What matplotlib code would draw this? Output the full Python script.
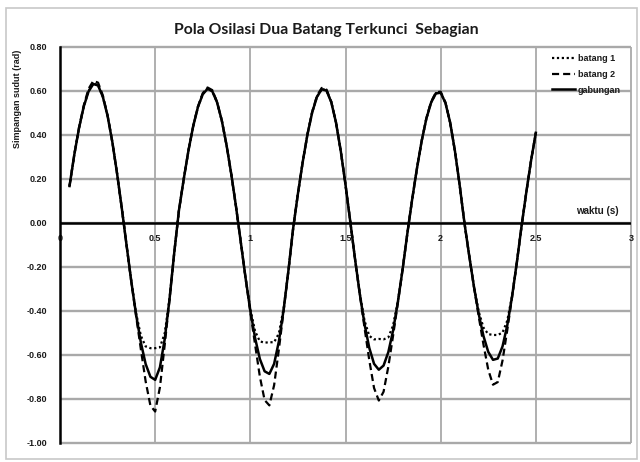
import matplotlib
matplotlib.use("Agg")
import matplotlib.pyplot as plt
from matplotlib.patches import Rectangle

waktu = [0.050, 0.075, 0.100, 0.125, 0.150, 0.175, 0.200, 0.225, 0.250, 0.275,
         0.300, 0.325, 0.350, 0.375, 0.400, 0.425, 0.450, 0.475, 0.500, 0.525,
         0.550, 0.575, 0.600, 0.625, 0.650, 0.675, 0.700, 0.725, 0.750, 0.775,
         0.800, 0.825, 0.850, 0.875, 0.900, 0.925, 0.950, 0.975, 1.000, 1.025,
         1.050, 1.075, 1.100, 1.125, 1.150, 1.175, 1.200, 1.225, 1.250, 1.275,
         1.300, 1.325, 1.350, 1.375, 1.400, 1.425, 1.450, 1.475, 1.500, 1.525,
         1.550, 1.575, 1.600, 1.625, 1.650, 1.675, 1.700, 1.725, 1.750, 1.775,
         1.800, 1.825, 1.850, 1.875, 1.900, 1.925, 1.950, 1.975, 2.000, 2.025,
         2.050, 2.075, 2.100, 2.125, 2.150, 2.175, 2.200, 2.225, 2.250, 2.275,
         2.300, 2.325, 2.350, 2.375, 2.400, 2.425, 2.450, 2.475, 2.500]

gabungan = [0.168, 0.310, 0.432, 0.530, 0.598, 0.632, 0.625, 0.574, 0.487, 0.368,
            0.224, 0.065, -0.103, -0.268, -0.418, -0.544, -0.641, -0.699, -0.713, -0.656,
            -0.529, -0.350, -0.137, 0.058, 0.199, 0.330, 0.441, 0.528, 0.585, 0.610,
            0.599, 0.549, 0.466, 0.354, 0.221, 0.073, -0.088, -0.250, -0.398, -0.523,
            -0.618, -0.674, -0.686, -0.640, -0.538, -0.394, -0.217, -0.024, 0.133, 0.276,
            0.402, 0.503, 0.573, 0.608, 0.602, 0.550, 0.457, 0.328, 0.174, 0.007,
            -0.163, -0.322, -0.460, -0.568, -0.640, -0.667, -0.648, -0.587, -0.489, -0.360,
            -0.211, -0.047, 0.106, 0.246, 0.372, 0.475, 0.548, 0.589, 0.592, 0.546,
            0.456, 0.327, 0.171, 0.000, -0.149, -0.290, -0.414, -0.514, -0.586, -0.622,
            -0.616, -0.561, -0.465, -0.335, -0.181, -0.014, 0.140, 0.284, 0.410]

batang_1 = [0.168, 0.310, 0.432, 0.530, 0.600, 0.634, 0.627, 0.574, 0.487, 0.368,
            0.224, 0.065, -0.103, -0.268, -0.411, -0.513, -0.561, -0.569, -0.569, -0.565,
            -0.502, -0.348, -0.137, 0.058, 0.199, 0.330, 0.441, 0.528, 0.586, 0.612,
            0.600, 0.549, 0.466, 0.354, 0.221, 0.073, -0.088, -0.250, -0.392, -0.492,
            -0.538, -0.544, -0.542, -0.542, -0.502, -0.388, -0.217, -0.024, 0.133, 0.276,
            0.402, 0.503, 0.574, 0.609, 0.603, 0.550, 0.457, 0.328, 0.174, 0.007,
            -0.163, -0.320, -0.444, -0.513, -0.529, -0.527, -0.529, -0.520, -0.466, -0.356,
            -0.211, -0.047, 0.106, 0.246, 0.372, 0.475, 0.549, 0.590, 0.593, 0.546,
            0.456, 0.327, 0.171, 0.000, -0.149, -0.289, -0.403, -0.476, -0.505, -0.509,
            -0.509, -0.498, -0.444, -0.332, -0.181, -0.014, 0.140, 0.284, 0.410]

batang_2 = [0.168, 0.310, 0.434, 0.535, 0.610, 0.646, 0.638, 0.580, 0.489, 0.368,
            0.224, 0.065, -0.103, -0.269, -0.424, -0.575, -0.720, -0.830, -0.857, -0.747,
            -0.555, -0.352, -0.137, 0.058, 0.199, 0.330, 0.441, 0.530, 0.590, 0.616,
            0.604, 0.551, 0.466, 0.354, 0.221, 0.073, -0.088, -0.250, -0.405, -0.553,
            -0.698, -0.805, -0.829, -0.737, -0.574, -0.399, -0.217, -0.024, 0.133, 0.276,
            0.402, 0.505, 0.578, 0.614, 0.607, 0.552, 0.457, 0.328, 0.174, 0.007,
            -0.163, -0.324, -0.476, -0.624, -0.750, -0.807, -0.767, -0.653, -0.512, -0.364,
            -0.211, -0.047, 0.106, 0.246, 0.372, 0.477, 0.552, 0.594, 0.597, 0.548,
            0.456, 0.327, 0.171, 0.000, -0.149, -0.291, -0.425, -0.553, -0.667, -0.735,
            -0.723, -0.625, -0.486, -0.338, -0.181, -0.014, 0.140, 0.284, 0.410]

x_ticks = [0, 0.5, 1, 1.5, 2, 2.5, 3]
x_tick_labels = ["0", "0.5", "1", "1.5", "2", "2.5", "3"]
y_ticks = [-1.0, -0.8, -0.6, -0.4, -0.2, 0.0, 0.2, 0.4, 0.6, 0.8]
y_tick_labels = ["-1.00", "-0.80", "-0.60", "-0.40", "-0.20", "0.00",
                 "0.20", "0.40", "0.60", "0.80"]

title = "Pola Osilasi Dua Batang Terkunci  Sebagian"
y_label = "Simpangan sudut (rad)"
x_label = "waktu (s)"

W, H = 640, 462
fig = plt.figure(figsize=(W / 100, H / 100), dpi=100)
fig.patch.set_facecolor("white")

# outer chart frame
fig.patches.append(Rectangle((6 / W, 1 - 459 / H), 631 / W, 451 / H,
                             transform=fig.transFigure, fill=False,
                             edgecolor="#c8c8c8", lw=1.2))

L, R, T, B = 60, 631, 47, 443
ax = fig.add_axes([L / W, 1 - B / H, (R - L) / W, (B - T) / H])
ax.set_xlim(0, 3)
ax.set_ylim(-1.0, 0.8)

grid_c = "#a9a9a9"
# gridlines drawn explicitly at the tick positions
ax.hlines(y_ticks, x_ticks[0], x_ticks[-1], colors=grid_c, linewidths=1.7,
          zorder=2, clip_on=False)
ax.vlines(x_ticks[1:], y_ticks[0], y_ticks[-1], colors=grid_c, linewidths=1.3,
          zorder=2, clip_on=False)

ax.plot(waktu, batang_1, color="black", lw=1.6, linestyle=(0, (1, 1.2)),
        label="batang 1", zorder=3)
ax.plot(waktu, batang_2, color="black", lw=1.6, linestyle=(0, (3.2, 1.8)),
        label="batang 2", zorder=3)
ax.plot(waktu, gabungan, color="black", lw=1.8, linestyle="-",
        label="gabungan", zorder=4)
ax.set_xlim(0, 3)
ax.set_ylim(-1.0, 0.8)

for s in ("top", "right", "bottom"):
    ax.spines[s].set_visible(False)
ax.spines["left"].set_color("black")
ax.spines["left"].set_linewidth(1.8)
ax.spines["left"].set_zorder(6)
# zero line (horizontal axis)
ax.plot([x_ticks[0], x_ticks[-1]], [0, 0], color="black", lw=1.8, zorder=5)

ax.set_xticks(x_ticks)
ax.set_xticklabels([])
ax.set_yticks(y_ticks)
ax.set_yticklabels(y_tick_labels)
ax.tick_params(axis="both", length=0)
ax.tick_params(axis="y", pad=9)
for lab in ax.get_yticklabels():
    lab.set_fontfamily("Liberation Sans")
    lab.set_fontweight("bold")
    lab.set_fontsize(6.5)
    lab.set_color("#1a1a1a")
# x tick labels just below the zero line
for xv, xl in zip(x_ticks, x_tick_labels):
    ax.annotate(xl, (xv, 0), xytext=(0, -11), textcoords="offset points",
                ha="center", va="center", family="Liberation Sans",
                weight="bold", size=6.5, color="#1a1a1a", zorder=6)

handles, labels = ax.get_legend_handles_labels()
leg = ax.legend(handles, labels, loc="upper left",
                bbox_to_anchor=(552 / W, 1 - 54 / H),
                bbox_transform=fig.transFigure, frameon=False,
                prop=dict(family="Liberation Sans", weight="bold", size=6.5),
                handlelength=2.6, handletextpad=0.25, labelspacing=0.75,
                borderpad=0, borderaxespad=0)
leg.set_zorder(7)
for t in leg.get_texts():
    t.set_color("#1a1a1a")

fig.text(326 / W, 1 - 30 / H, title, ha="center", va="center",
         fontsize=11.3, fontweight="bold", family="Lato", color="#1a1a1a")
fig.text(18 / W, 1 - 99 / H, y_label, ha="center", va="center", rotation=90,
         fontsize=6.5, fontweight="bold", family="Liberation Sans", color="#1a1a1a")
fig.text(597 / W, 1 - 211 / H, x_label, ha="center", va="center",
         fontsize=7, fontweight="bold", family="Liberation Sans", color="#1a1a1a")

fig.savefig("out.png", dpi=100)
